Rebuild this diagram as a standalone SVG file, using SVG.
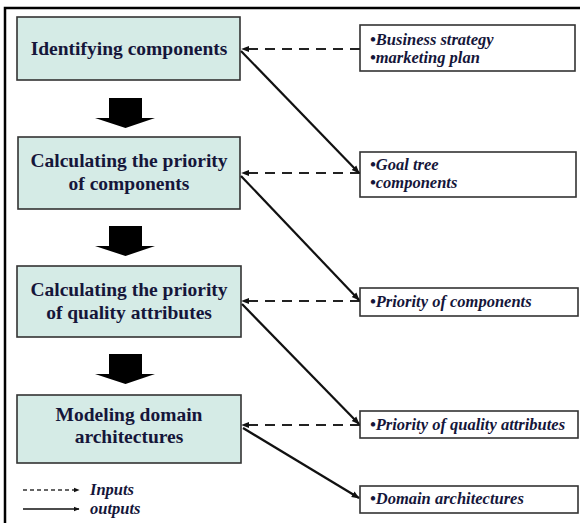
<svg xmlns="http://www.w3.org/2000/svg" width="580" height="523" viewBox="0 0 580 523">
<defs>
<marker id="ah" viewBox="0 0 10 10" refX="9" refY="5" markerWidth="6" markerHeight="6" orient="auto" markerUnits="userSpaceOnUse">
<path d="M0,1 L10,5 L0,9 z" fill="#111"/>
</marker>
<marker id="ahs" viewBox="0 0 10 10" refX="9" refY="5" markerWidth="8" markerHeight="8" orient="auto" markerUnits="userSpaceOnUse">
<path d="M0,1 L10,5 L0,9 z" fill="#111"/>
</marker>
<style>
.step{fill:#d5ebe6;stroke:#333;stroke-width:1.6}
.io{fill:#fff;stroke:#333;stroke-width:1.6}
.st{font-family:"Liberation Serif","Times New Roman",serif;font-weight:bold;font-size:19.5px;fill:#15163a;text-anchor:middle}
.it{font-family:"Liberation Serif","Times New Roman",serif;font-weight:bold;font-style:italic;font-size:16.5px;fill:#15163a}
.dash{stroke:#222;stroke-width:2.2;stroke-dasharray:10,7;fill:none}
.sol{stroke:#111;stroke-width:2.2;fill:none}
.blk{fill:#000}
</style>
</defs>
<rect width="580" height="523" fill="#fff"/>
<path d="M5,523 V8 H580" fill="none" stroke="#000" stroke-width="2.5"/>

<g id="step1"><rect class="step" x="17" y="17" width="223" height="63"/><text class="st" x="129" y="55">Identifying components</text></g>
<g id="step2"><rect class="step" x="18" y="137" width="222" height="72"/><text class="st" x="129" y="167">Calculating the priority</text><text class="st" x="129" y="190">of components</text></g>
<g id="step3"><rect class="step" x="17" y="266" width="224" height="71"/><text class="st" x="129" y="296">Calculating the priority</text><text class="st" x="129" y="319">of quality attributes</text></g>
<g id="step4"><rect class="step" x="17" y="395" width="224" height="68"/><text class="st" x="129" y="421">Modeling domain</text><text class="st" x="129" y="443">architectures</text></g>

<g id="flow-arrows">
<path class="blk" d="M109,98 H142 V118 H155 L125.5,128 L95,118 H109 Z"/>
<path class="blk" d="M109,226 H142 V246 H155 L125.5,256 L95,246 H109 Z"/>
<path class="blk" d="M109,354 H142 V374 H155 L125.5,384 L95,374 H109 Z"/>
</g>

<g id="in1"><rect class="io" x="360" y="25" width="215" height="46"/><text class="it" x="370" y="45">•Business strategy</text><text class="it" x="370" y="63">•marketing plan</text></g>
<g id="in2"><rect class="io" x="360" y="152" width="216" height="45"/><text class="it" x="370" y="170">•Goal tree</text><text class="it" x="370" y="188">•components</text></g>
<g id="in3"><rect class="io" x="360" y="288" width="218" height="28"/><text class="it" x="370" y="307">•Priority of components</text></g>
<g id="in4"><rect class="io" x="360" y="411" width="218" height="27"/><text class="it" x="370" y="430">•Priority of quality attributes</text></g>
<g id="out4"><rect class="io" x="360" y="486" width="218" height="27"/><text class="it" x="370" y="504">•Domain architectures</text></g>

<g id="connectors">
<line class="dash" x1="360" y1="49" x2="242" y2="49" marker-end="url(#ahs)"/>
<line class="dash" x1="360" y1="173" x2="242" y2="173" marker-end="url(#ahs)"/>
<line class="dash" x1="360" y1="301" x2="242" y2="301" marker-end="url(#ahs)"/>
<line class="dash" x1="360" y1="425" x2="242" y2="425" marker-end="url(#ahs)"/>
<line class="sol" x1="241" y1="51" x2="359" y2="173" marker-end="url(#ahs)"/>
<line class="sol" x1="241" y1="176" x2="359" y2="300" marker-end="url(#ahs)"/>
<line class="sol" x1="242" y1="304" x2="359" y2="424" marker-end="url(#ahs)"/>
<line class="sol" x1="243" y1="428" x2="359" y2="498" marker-end="url(#ahs)"/>
</g>

<g id="legend">
<line x1="23" y1="490" x2="79" y2="490" stroke="#333" stroke-width="1.4" stroke-dasharray="4,3" marker-end="url(#ah)"/>
<line x1="23" y1="509" x2="79" y2="509" stroke="#111" stroke-width="1.6" marker-end="url(#ah)"/>
<text class="it" x="90" y="495">Inputs</text>
<text class="it" x="90" y="514">outputs</text>
</g>
</svg>
